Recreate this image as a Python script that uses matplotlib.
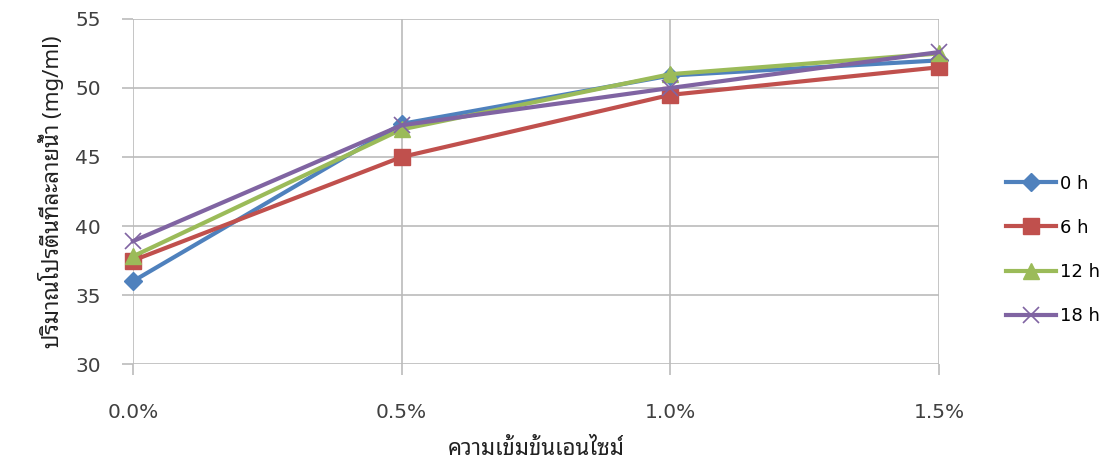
import matplotlib
matplotlib.use("Agg")
import matplotlib.pyplot as plt

categories = ["0.0%", "0.5%", "1.0%", "1.5%"]
s0 = [36.0, 47.4, 50.9, 52.0]
s6 = [37.5, 45.0, 49.5, 51.5]
s12 = [37.8, 47.0, 51.0, 52.5]
s18 = [38.9, 47.3, 50.0, 52.6]
labels = ["0 h", "6 h", "12 h", "18 h"]
colors = ["#4F81BD", "#C0504D", "#9BBB59", "#8064A2"]
markers = ["D", "s", "^", "x"]
msizes = [9, 11, 11, 11]

plt.rcParams['font.family'] = ["DejaVu Sans"]
thai = ["Noto Sans Thai Looped", "DejaVu Sans"]

fig = plt.figure(figsize=(11.1, 4.74), dpi=100)
ax = fig.add_axes([0.1198, 0.232, 0.7262, 0.728])

x = range(len(categories))
for ys, lab, c, m, ms in zip([s0, s6, s12, s18], labels, colors, markers, msizes):
    ax.plot(x, ys, color=c, lw=3, marker=m, markersize=ms,
            mew=1.2 if m == "x" else 1, label=lab, clip_on=False, zorder=3)

ax.set_xlim(0, 3)
ax.set_ylim(30, 55)
ax.set_xticks(list(x))
ax.set_xticklabels(categories)
ax.set_yticks(range(30, 56, 5))
ax.grid(True, color="#BBBBBB", lw=1.2)
ax.set_axisbelow(True)
for s in ax.spines.values():
    s.set_visible(False)
ax.tick_params(axis="both", length=8, color="#BBBBBB", width=1.2,
               labelsize=14.5, labelcolor="#404040")
ax.tick_params(axis="y", pad=15)
ax.tick_params(axis="x", pad=20)

ax.set_ylabel("ปริมาณโปรตีนที่ละลายน้ำ (mg/ml)", family=thai, fontsize=16,
              color="#222222", labelpad=8)
ax.set_xlabel("ความเข้มข้นเอนไซม์", family=thai, fontsize=16,
              color="#222222", labelpad=12)

fig.legend(loc="center left", bbox_to_anchor=(0.906, 0.473), frameon=False,
           fontsize=13, labelspacing=1.45, handlelength=2.8, handletextpad=0.2,
           borderpad=0, borderaxespad=0)

fig.savefig("out.png", dpi=100)
